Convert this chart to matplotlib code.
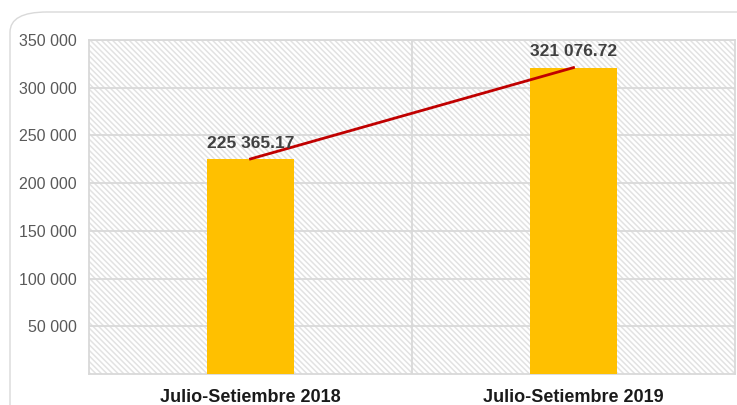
import numpy as np
import matplotlib
matplotlib.use("Agg")
import matplotlib.pyplot as plt
from matplotlib.patches import FancyBboxPatch, Rectangle

# data
categories = ["Julio-Setiembre 2018", "Julio-Setiembre 2019"]
values = [225365.17, 321076.72]
value_labels = ["225 365.17", "321 076.72"]
yticks = [50000, 100000, 150000, 200000, 250000, 300000, 350000]
ytick_labels = ["50 000", "100 000", "150 000", "200 000", "250 000", "300 000", "350 000"]

plt.rcParams["font.family"] = ["Liberation Sans", "DejaVu Sans"]
plt.rcParams["hatch.color"] = "#e2e2e2"
plt.rcParams["hatch.linewidth"] = 1.1

W, H = 737, 405
fig = plt.figure(figsize=(W / 100, H / 100), dpi=100)

# outer rounded frame (behind the axes)
frame = FancyBboxPatch((10 / W, -0.1), 1.2, (H - 12) / H + 0.1,
                       boxstyle="round,pad=0,rounding_size=0.05",
                       transform=fig.transFigure, facecolor="white",
                       edgecolor="#d9d9d9", linewidth=1.0, zorder=-1)
fig.patches.append(frame)

ax = fig.add_axes([89 / W, 1 - 374 / H, (735 - 89) / W, (374 - 40) / H])
ax.set_facecolor("none")

# hatched background
bg = Rectangle((0, 0), 1, 1, transform=ax.transAxes, facecolor="white",
               edgecolor="#e2e2e2", hatch="\\" * 6, linewidth=0, zorder=0)
ax.add_patch(bg)

x = np.arange(len(categories))
ax.bar(x, values, width=0.27, color="#FFC000", zorder=3)
ax.plot(x, values, color="#C00000", linewidth=2, zorder=4)

for xi, v, lab in zip(x, values, value_labels):
    ax.annotate(lab, (xi, v), xytext=(0, 6), textcoords="offset points",
                ha="center", va="bottom", fontsize=12.5, fontweight="bold",
                color="#404040", zorder=5)

ax.set_xlim(-0.5, 1.5)
ax.set_ylim(0, 350000)
ax.set_yticks(yticks)
ax.set_yticklabels(ytick_labels, fontsize=11.5, color="#595959")
ax.set_xticks(x)
ax.set_xticklabels(categories, fontsize=13, fontweight="bold", color="#1a1a1a")
ax.tick_params(axis="both", length=0)
ax.tick_params(axis="y", pad=9)
ax.tick_params(axis="x", pad=11)

ax.grid(axis="y", color="#d9d9d9", linewidth=1.3, zorder=1)
ax.axvline(0.5, color="#d9d9d9", linewidth=1.3, zorder=1)
for s in ax.spines.values():
    s.set_color("#d9d9d9")
    s.set_linewidth(1.3)

fig.savefig("out.png", dpi=100)
